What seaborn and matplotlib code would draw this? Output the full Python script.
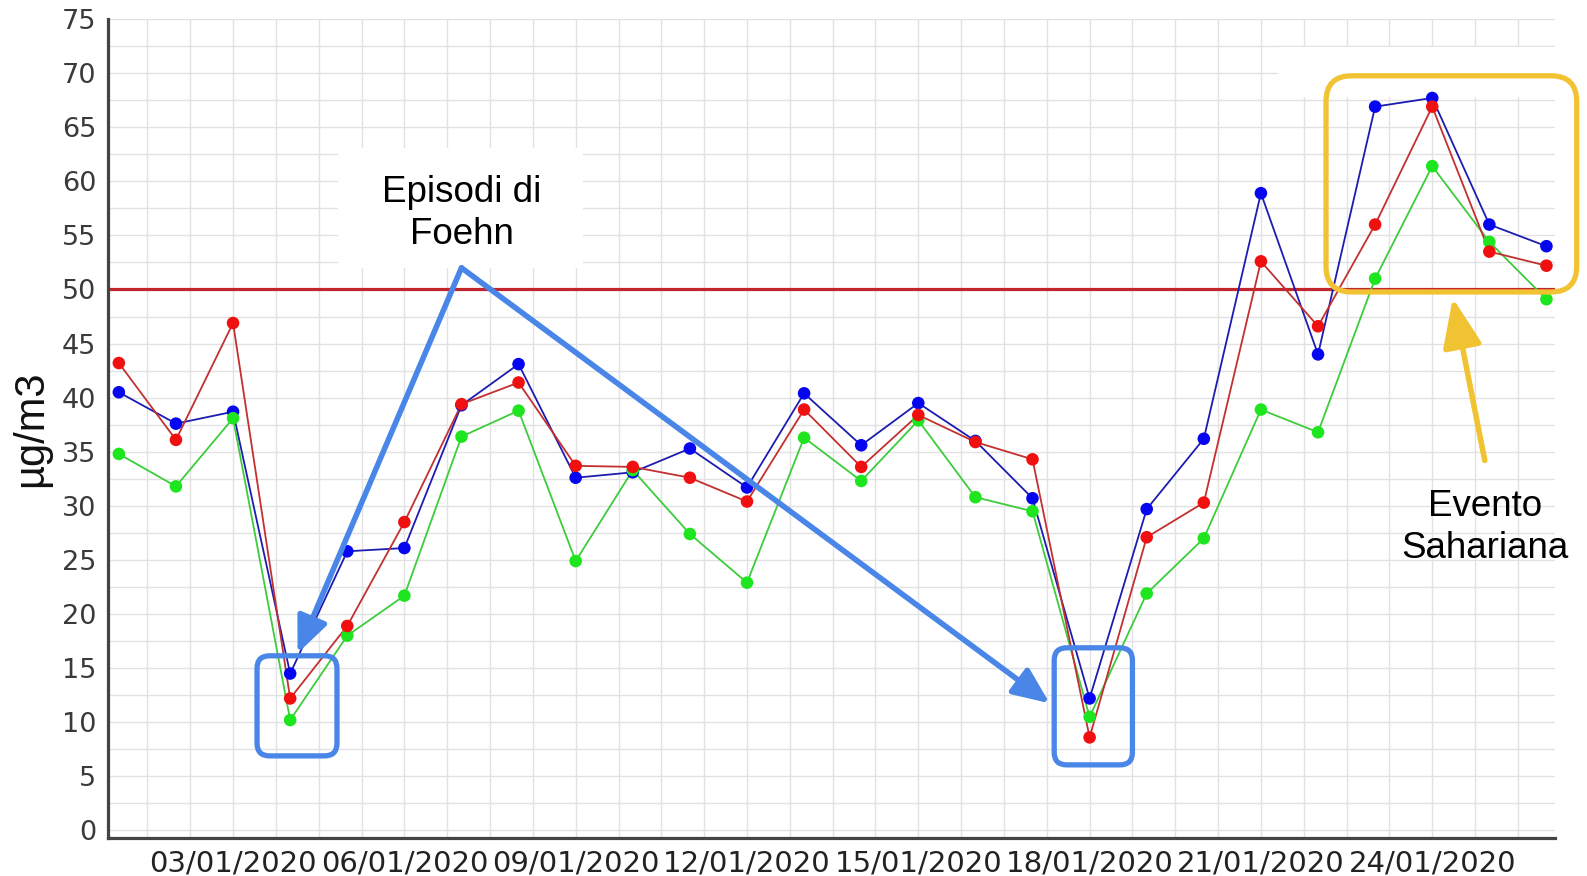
import numpy as np
import pandas as pd
import matplotlib
matplotlib.use("Agg")
import matplotlib.pyplot as plt
import seaborn as sns
from matplotlib.ticker import MultipleLocator
from matplotlib.patches import FancyBboxPatch, Rectangle

# daily values, 01/01/2020 - 26/01/2020
dates = ["01/01/2020", "02/01/2020", "03/01/2020", "04/01/2020", "05/01/2020",
         "06/01/2020", "07/01/2020", "08/01/2020", "09/01/2020", "10/01/2020",
         "11/01/2020", "12/01/2020", "13/01/2020", "14/01/2020", "15/01/2020",
         "16/01/2020", "17/01/2020", "18/01/2020", "19/01/2020", "20/01/2020",
         "21/01/2020", "22/01/2020", "23/01/2020", "24/01/2020", "25/01/2020",
         "26/01/2020"]
blue_vals = [40.5, 37.6, 38.7, 14.5, 25.8, 26.1, 39.3, 43.1, 32.6, 33.1, 35.3, 31.7, 40.4,
             35.6, 39.5, 36.0, 30.7, 12.2, 29.7, 36.2, 58.9, 44.0, 66.9, 67.7, 56.0, 54.0]
green_vals = [34.8, 31.8, 38.1, 10.2, 18.0, 21.7, 36.4, 38.8, 24.9, 33.3, 27.4, 22.9, 36.3,
              32.3, 37.9, 30.8, 29.5, 10.5, 21.9, 27.0, 38.9, 36.8, 51.0, 61.4, 54.4, 49.1]
red_vals = [43.2, 36.1, 46.9, 12.2, 18.9, 28.5, 39.4, 41.4, 33.7, 33.6, 32.6, 30.4, 38.9,
            33.6, 38.4, 35.9, 34.3, 8.6, 27.1, 30.3, 52.6, 46.6, 56.0, 66.9, 53.5, 52.2]
limit_value = 50

series_names = ["blu", "verde", "rosso"]
line_colors = {"blu": "#1c1cb0", "verde": "#3ccc3c", "rosso": "#c23030"}
marker_colors = {"blu": "#0505f0", "verde": "#1ee61e", "rosso": "#f01010"}

day = np.arange(len(dates))
df = pd.concat([
    pd.DataFrame({"day": day, "value": vals, "series": name})
    for name, vals in zip(series_names, [blue_vals, green_vals, red_vals])
], ignore_index=True)

sns.set_style("white")
plt.rcParams["font.family"] = ["DejaVu Sans"]

W, H = 1587, 876
fig = plt.figure(figsize=(W / 100, H / 100), dpi=100)
ax = fig.add_axes([108 / W, 1 - 838 / H, (1555 - 108) / W, (838 - 19) / H])

sns.lineplot(data=df, x="day", y="value", hue="series", palette=line_colors,
             linewidth=1.3, legend=False, ax=ax, zorder=3)
sns.scatterplot(data=df, x="day", y="value", hue="series", palette=marker_colors,
                s=82, edgecolor="none", legend=False, ax=ax, zorder=4)

ax.axhline(limit_value, color="#c0262c", linewidth=2.3, zorder=2.5)

ax.set_xlim(-0.19, 25.15)
ax.set_ylim(-0.7, 75)
ax.set_xticks(day[2::3])
ax.set_xticklabels(dates[2::3])
ax.xaxis.set_minor_locator(MultipleLocator(0.75, offset=0.5))
ax.yaxis.set_major_locator(MultipleLocator(5))
ax.yaxis.set_minor_locator(MultipleLocator(2.5))
ax.grid(which="both", color="#e2e2e2", linewidth=1.0)
ax.set_axisbelow(True)

for side in ["top", "right"]:
    ax.spines[side].set_visible(False)
for side in ["left", "bottom"]:
    ax.spines[side].set_color("#444444")
    ax.spines[side].set_linewidth(2.3)

ax.tick_params(axis="x", which="major", length=6, width=1.2, color="#444444",
               labelsize=21, labelcolor="#222222", pad=2.5)
ax.tick_params(axis="x", which="minor", length=2, width=1.0, color="#666666")
ax.tick_params(axis="y", which="major", length=5, width=1.2, color="#444444",
               labelsize=19.5, labelcolor="#3a3a3a", pad=3.5)
ax.tick_params(axis="y", which="minor", length=3, width=1.0, color="#666666")

ax.set_xlabel("")
ax.set_ylabel("µg/m3", fontsize=30, family=["Liberation Sans", "DejaVu Sans"], color="#111111")
ax.yaxis.set_label_coords(-0.039, 0.5)

# data units per pixel ratio, for round corners
asp = 57.1 / 10.81

# white patches from the original slide
ax.add_patch(Rectangle((3.83, 52.0), 8.12 - 3.83, 63.1 - 52.0, facecolor="white",
                       edgecolor="none", zorder=1.5))
ax.add_patch(Rectangle((20.3, 67.8), 6.0, 72.4 - 67.8, facecolor="white",
                       edgecolor="none", zorder=1.5, clip_on=False))

blue = "#4a86e8"
gold = "#f1c232"


def rounded_box(x0, x1, y0, y1, radius, color):
    box = FancyBboxPatch((x0, y0), x1 - x0, y1 - y0,
                         boxstyle=f"round,pad=0,rounding_size={radius}",
                         mutation_aspect=asp, fill=False, edgecolor=color,
                         linewidth=3.8, zorder=6, clip_on=False)
    ax.add_patch(box)


rounded_box(2.42, 3.82, 6.89, 16.14, 0.22, blue)
rounded_box(16.38, 17.75, 6.06, 16.88, 0.22, blue)
rounded_box(21.14, 25.53, 49.77, 69.75, 0.45, gold)

apex = (6.0, 52.0)
for tip in [(3.13, 16.37), (16.30, 11.75)]:
    ax.annotate("", xy=tip, xytext=apex,
                arrowprops=dict(arrowstyle="-|>,head_length=2.2,head_width=0.95",
                                mutation_scale=10, color=blue, lw=4.0,
                                shrinkA=0, shrinkB=0),
                zorder=7, annotation_clip=False)
ax.annotate("", xy=(23.36, 49.2), xytext=(23.92, 34.2),
            arrowprops=dict(arrowstyle="-|>,head_length=3.0,head_width=1.2",
                            mutation_scale=10, color=gold, lw=4.0,
                            shrinkA=0, shrinkB=0),
            zorder=7, annotation_clip=False)

ax.text(6.0, 57.0, "Episodi di\nFoehn", ha="center", va="center", fontsize=26.5,
        linespacing=1.25, family=["Liberation Sans", "DejaVu Sans"], color="black", zorder=8)
ax.text(23.92, 28.0, "Evento\nSahariana", ha="center", va="center", fontsize=26.5,
        linespacing=1.25, family=["Liberation Sans", "DejaVu Sans"], color="black",
        zorder=8, clip_on=False)

fig.savefig("out.png", dpi=100)
